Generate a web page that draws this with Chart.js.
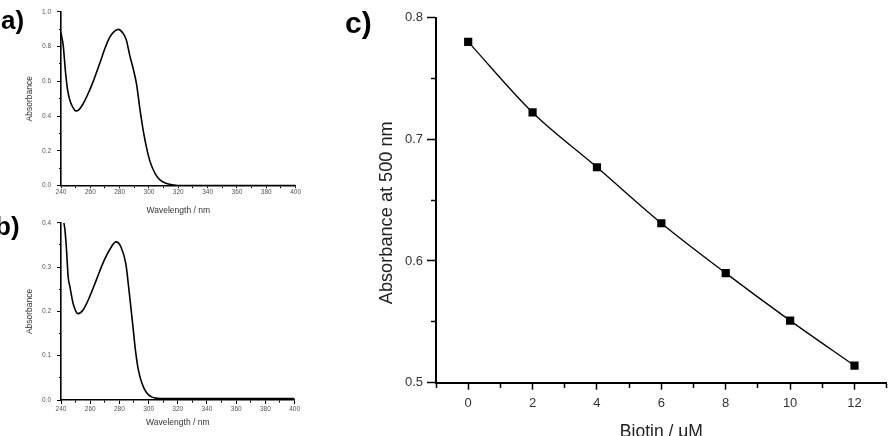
<!DOCTYPE html>
<html lang="en">
<head>
<meta charset="utf-8">
<title>Biotin assay</title>
<script src="https://cdn.jsdelivr.net/npm/chart.js@4.4.1/dist/chart.umd.min.js"></script>
<style>
  html, body { margin: 0; padding: 0; background: #fff; overflow: hidden; }
  body { width: 893px; height: 436px; position: relative; font-family: 'Liberation Sans', Arial, sans-serif; }
  .panel { position: absolute; }
  .tag { position: absolute; font-weight: bold; color: #000; line-height: 1; white-space: nowrap; }
</style>
</head>
<body>
<div class="panel" style="left:0;top:0"><canvas id="chartA" width="301" height="220"></canvas></div>
<div class="panel" style="left:0;top:210px"><canvas id="chartB" width="301" height="226"></canvas></div>
<div class="panel" style="left:340px;top:0"><canvas id="chartC" width="553" height="436"></canvas></div>
<div class="tag" style="left:1px;top:7px;font-size:26px">a)</div>
<div class="tag" style="left:-5px;top:213px;font-size:26px">b)</div>
<div class="tag" style="left:345px;top:8px;font-size:30px">c)</div>

<script>
// a) UV spectrum
const wavelengthA = [240, 241.6, 243, 244.5, 246.5, 248.5, 250, 252, 255, 258, 262, 266.5, 270, 273, 276, 279.2, 282, 284.5, 287, 289.4, 291.5, 294, 296.3, 298.5, 300.8, 304.2, 307.7, 312, 317, 322, 400];
const absorbanceA = [0.88, 0.8, 0.66, 0.55, 0.48, 0.445, 0.43, 0.435, 0.47, 0.52, 0.6, 0.705, 0.79, 0.85, 0.885, 0.899, 0.88, 0.84, 0.745, 0.668, 0.585, 0.43, 0.307, 0.213, 0.137, 0.07, 0.032, 0.013, 0.004, 0.001, 0.001];

// b) UV spectrum
const wavelengthB = [242, 242.7, 243.8, 244.9, 246.1, 248.3, 251.7, 255.1, 259.6, 264.1, 268.6, 273.1, 277.6, 281, 284.4, 286, 287.6, 289.3, 291, 293, 295.5, 298.5, 302, 306, 312, 320, 400];
const absorbanceB = [0.4, 0.384, 0.338, 0.278, 0.256, 0.218, 0.195, 0.203, 0.233, 0.27, 0.308, 0.338, 0.357, 0.346, 0.308, 0.265, 0.217, 0.165, 0.112, 0.068, 0.037, 0.017, 0.007, 0.004, 0.003, 0.003, 0.003];

// c) calibration
const biotinConc = [0, 2, 4, 6, 8, 10, 12];
const absorbance500 = [0.780, 0.722, 0.677, 0.631, 0.590, 0.551, 0.514];

const FONT = "'Liberation Sans', Arial, sans-serif";

function isMajor(value, step) {
    const r = value / step;
    return Math.abs(r - Math.round(r)) < 1e-6;
}

// minor ticks are drawn shorter by dashing the tick line
function tickDash(side, step, tickLen, minorLen) {
    return function(ctx) {
        if (!ctx.tick || isMajor(ctx.tick.value, step)) return [];
        if (side === 'bottom') return [minorLen, 100];
        return [0, tickLen - minorLen, minorLen, 100];
    };
}

function makeSpectrum(id, wl, ab, opts) {
    new Chart(document.getElementById(id), {
        type: 'line',
        data: {
            datasets: [{
                data: wl.map((x, i) => ({ x: x, y: ab[i] })),
                borderColor: '#000',
                borderWidth: 1.6,
                pointRadius: 0,
                cubicInterpolationMode: 'monotone'
            }]
        },
        options: {
            responsive: false,
            animation: false,
            events: [],
            layout: { padding: { top: opts.padTop, right: 0, left: 0, bottom: 0 } },
            plugins: { legend: { display: false }, tooltip: { enabled: false } },
            scales: {
                x: {
                    type: 'linear',
                    min: 240,
                    max: 400,
                    ticks: {
                        stepSize: 10,
                        autoSkip: false,
                        maxRotation: 0,
                        padding: opts.xTickPad,
                        color: '#555',
                        font: { family: FONT, size: 6.5 },
                        callback: v => isMajor(v, 20) ? v : ''
                    },
                    grid: {
                        display: true,
                        drawOnChartArea: false,
                        drawTicks: true,
                        tickLength: opts.xTickLen,
                        tickWidth: 1,
                        tickColor: '#000',
                        tickBorderDash: tickDash('bottom', 20, opts.xTickLen, 2)
                    },
                    border: { display: true, color: '#000', width: 1.6 },
                    title: {
                        display: true,
                        text: 'Wavelength / nm',
                        color: '#333',
                        font: { family: FONT, size: 8.5 },
                        padding: { top: 0, bottom: opts.titlePad }
                    },
                    afterFit: s => { s.height = opts.xHeight; }
                },
                y: {
                    min: 0,
                    max: opts.yMax,
                    ticks: {
                        stepSize: opts.yStep / 2,
                        autoSkip: false,
                        padding: 6,
                        color: '#555',
                        font: { family: FONT, size: 6.5 },
                        callback: v => isMajor(v, opts.yStep) ? v.toFixed(1) : ''
                    },
                    grid: {
                        display: true,
                        drawOnChartArea: false,
                        drawTicks: true,
                        tickLength: 4,
                        tickWidth: 1,
                        tickColor: '#000',
                        tickBorderDash: tickDash('left', opts.yStep, 4, 2)
                    },
                    border: { display: true, color: '#000', width: 1.6 },
                    title: {
                        display: true,
                        text: 'Absorbance',
                        color: '#333',
                        font: { family: FONT, size: 8.5 },
                        padding: { top: 24.5, bottom: 0 }
                    },
                    afterFit: s => { s.width = 61; }
                }
            }
        }
    });
}

makeSpectrum('chartA', wavelengthA, absorbanceA, { yMax: 1.0, yStep: 0.2, padTop: 11.8, xHeight: 34.3, titlePad: 3.9, xTickPad: 0, xTickLen: 2.5 });
makeSpectrum('chartB', wavelengthB, absorbanceB, { yMax: 0.4, yStep: 0.1, padTop: 12.8, xHeight: 36, titlePad: 8.2, xTickPad: 1, xTickLen: 4 });

// c) Absorbance at 500 nm vs biotin
new Chart(document.getElementById('chartC'), {
    type: 'line',
    data: {
        datasets: [{
            data: biotinConc.map((x, i) => ({ x: x, y: absorbance500[i] })),
            borderColor: '#000',
            borderWidth: 1.3,
            cubicInterpolationMode: 'monotone',
            pointStyle: 'rect',
            pointRadius: 5.8,
            pointBorderWidth: 0,
            pointBackgroundColor: '#000',
            pointBorderColor: '#000'
        }]
    },
    options: {
        responsive: false,
        animation: false,
        events: [],
        layout: { padding: { top: 17.5, right: 6.3, left: 0, bottom: 0 } },
        plugins: { legend: { display: false }, tooltip: { enabled: false } },
        scales: {
            x: {
                type: 'linear',
                min: -1,
                max: 13,
                ticks: {
                    stepSize: 1,
                    autoSkip: false,
                    maxRotation: 0,
                    padding: 6,
                    color: '#333',
                    font: { family: FONT, size: 13 },
                    callback: v => (v >= 0 && isMajor(v, 2)) ? v : ''
                },
                grid: {
                    display: true,
                    drawOnChartArea: false,
                    drawTicks: true,
                    tickLength: 7,
                    tickWidth: 1.5,
                    tickColor: '#000',
                    tickBorderDash: tickDash('bottom', 2, 7, 4)
                },
                border: { display: true, color: '#000', width: 2 },
                title: {
                    display: true,
                    text: 'Biotin / μM',
                    color: '#222',
                    font: { family: FONT, size: 17.5 },
                    padding: { top: 0, bottom: -6.5 }
                },
                afterFit: s => { s.height = 53.3; }
            },
            y: {
                min: 0.5,
                max: 0.8,
                ticks: {
                    stepSize: 0.05,
                    autoSkip: false,
                    padding: 4,
                    color: '#333',
                    font: { family: FONT, size: 13 },
                    callback: v => isMajor(v, 0.1) ? v.toFixed(1) : ''
                },
                grid: {
                    display: true,
                    drawOnChartArea: false,
                    drawTicks: true,
                    tickLength: 9,
                    tickWidth: 1.5,
                    tickColor: '#000',
                    tickBorderDash: tickDash('left', 0.1, 9, 5)
                },
                border: { display: true, color: '#000', width: 2 },
                title: {
                    display: true,
                    // trailing spaces move the label a little below the axis centre, as in the original
                    text: 'Absorbance at 500 nm     ',
                    color: '#222',
                    font: { family: FONT, size: 18.2 },
                    padding: { top: 35.7, bottom: 0 }
                },
                afterFit: s => { s.width = 96; }
            }
        }
    }
});
</script>
</body>
</html>
